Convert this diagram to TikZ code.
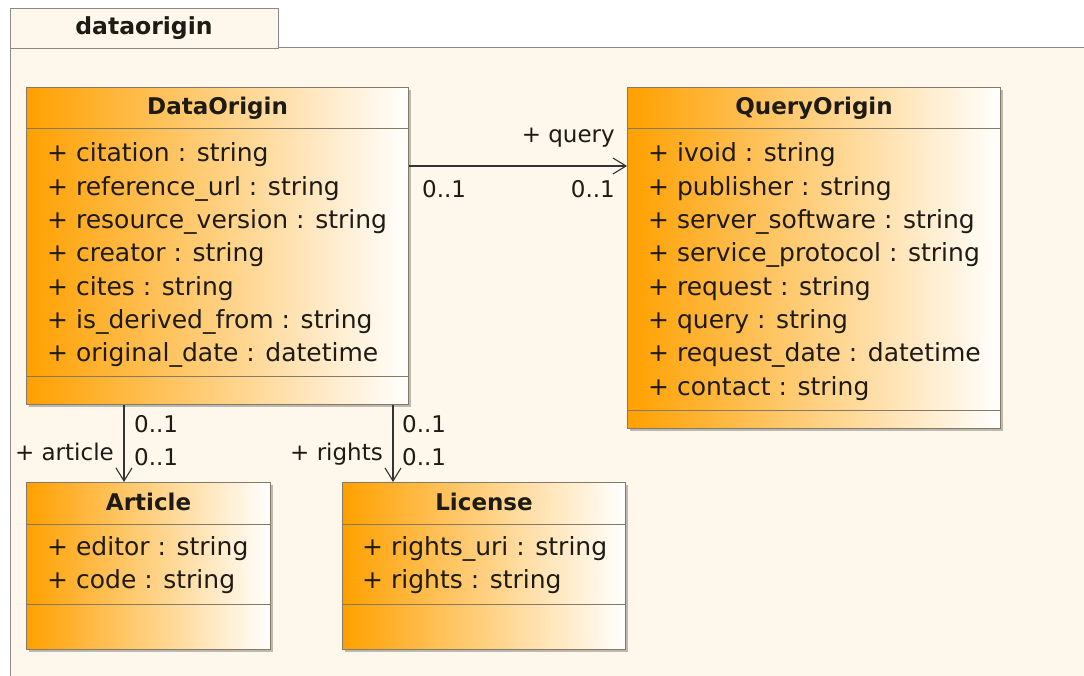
\documentclass[tikz,border=0pt]{standalone}
\usepackage{fontspec}
\setmainfont{DejaVu Sans}
\usetikzlibrary{arrows.meta,shadows,calc}

\definecolor{pkgfill}{HTML}{FDF8EB}
\definecolor{pkgline}{HTML}{8C8A84}
\definecolor{clsline}{HTML}{857A66}
\definecolor{clsorange}{HTML}{FFA000}
\definecolor{txt}{HTML}{1E1A14}

\newcommand{\umlfont}{\fontsize{23}{28}\selectfont}
\newcommand{\attrfont}{\fontsize{25}{30}\selectfont}

\tikzset{
  classbox/.style={draw=clsline, line width=1.1pt, left color=clsorange, right color=white,
    anchor=north west, inner sep=0pt,
    drop shadow={shadow xshift=2pt, shadow yshift=-2pt, fill=black, opacity=0.25}},
  sepline/.style={draw=clsline, line width=1pt},
  classname/.style={anchor=base, inner sep=0pt, font=\umlfont\bfseries, text=txt},
  attr/.style={anchor=base west, inner sep=0pt, font=\attrfont, text=txt},
  rolelabel/.style={inner sep=0pt, font=\umlfont, text=txt},
  assoc/.style={draw=black!80, line width=1.1pt, -{Straight Barb[length=13pt,width=16pt]}},
}

\begin{document}
\begin{tikzpicture}[x=1pt,y=-1pt]
\useasboundingbox (0,0) rectangle (1084,676);
\fill[white] (0,0) rectangle (1084,676);

% package frame with its name tab
\draw[pkgline, line width=1pt, fill=pkgfill] (10,48) rectangle (1100,700);
\node[draw=pkgline, line width=1pt, fill=pkgfill, anchor=north west, minimum width=268pt,
      minimum height=40pt, inner sep=0pt] (pkgtab) at (10,8) {};
\node[anchor=base, inner sep=0pt, font=\fontsize{23.5}{28}\selectfont\bfseries, text=txt]
  (pkgname) at (144,35) {dataorigin};

% class DataOrigin
\node[classbox, minimum width=382pt, minimum height=317pt] (dataorigin) at (26,87) {};
\node[classname] (dataorigin-name) at ($(dataorigin.north)+(0,28)$) {DataOrigin};
\draw[sepline] ($(dataorigin.north west)+(0,42)$) -- ($(dataorigin.north east)+(0,42)$);
\draw[sepline] ($(dataorigin.north west)+(0,289)$) -- ($(dataorigin.north east)+(0,289)$);
\foreach \t [count=\i] in {citation : string, reference\_url : string, resource\_version : string,
    creator : string, cites : string, is\_derived\_from : string, original\_date : datetime}
  \node[attr] (dataorigin-a\i) at ($(dataorigin.north west)+(21,41.7+33.3*\i)$) {+ \t};

% class QueryOrigin
\node[classbox, minimum width=373pt, minimum height=341pt] (queryorigin) at (627,87) {};
\node[classname] (queryorigin-name) at ($(queryorigin.north)+(0,28)$) {QueryOrigin};
\draw[sepline] ($(queryorigin.north west)+(0,42)$) -- ($(queryorigin.north east)+(0,42)$);
\draw[sepline] ($(queryorigin.north west)+(0,323)$) -- ($(queryorigin.north east)+(0,323)$);
\foreach \t [count=\i] in {ivoid : string, publisher : string, server\_software : string,
    service\_protocol : string, request : string, query : string, request\_date : datetime,
    contact : string}
  \node[attr] (queryorigin-a\i) at ($(queryorigin.north west)+(21,41.7+33.3*\i)$) {+ \t};

% class Article
\node[classbox, minimum width=244pt, minimum height=167pt] (article) at (26,482) {};
\node[classname] (article-name) at ($(article.north)+(0,28)$) {Article};
\draw[sepline] ($(article.north west)+(0,42)$) -- ($(article.north east)+(0,42)$);
\draw[sepline] ($(article.north west)+(0,122)$) -- ($(article.north east)+(0,122)$);
\foreach \t [count=\i] in {editor : string, code : string}
  \node[attr] (article-a\i) at ($(article.north west)+(21,39.7+33.3*\i)$) {+ \t};

% class License
\node[classbox, minimum width=283pt, minimum height=167pt] (license) at (342,482) {};
\node[classname] (license-name) at ($(license.north)+(0,28)$) {License};
\draw[sepline] ($(license.north west)+(0,42)$) -- ($(license.north east)+(0,42)$);
\draw[sepline] ($(license.north west)+(0,122)$) -- ($(license.north east)+(0,122)$);
\foreach \t [count=\i] in {rights\_uri : string, rights : string}
  \node[attr] (license-a\i) at ($(license.north west)+(20,39.7+33.3*\i)$) {+ \t};

% associations
\coordinate (queryline) at (0,166);
\coordinate (articleline) at (124,0);
\coordinate (licenseline) at (393,0);
\draw[assoc] (dataorigin.east |- queryline) -- (queryorigin.west |- queryline);
\draw[assoc] (dataorigin.south -| articleline) -- (article.north -| articleline);
\draw[assoc] (dataorigin.south -| licenseline) -- (license.north -| licenseline);

% role names and multiplicities
\node[rolelabel, anchor=base east] (query-role) at (615,143) {+ query};
\node[rolelabel, anchor=base west] (query-src) at (422,198) {0..1};
\node[rolelabel, anchor=base east] (query-dst) at (615,198) {0..1};

\node[rolelabel, anchor=base west] (article-src) at (134,432) {0..1};
\node[rolelabel, anchor=base west] (article-dst) at (134,465) {0..1};
\node[rolelabel, anchor=base east] (article-role) at (114,460) {+ article};

\node[rolelabel, anchor=base west] (license-src) at (402,432) {0..1};
\node[rolelabel, anchor=base west] (license-dst) at (402,465) {0..1};
\node[rolelabel, anchor=base east] (license-role) at (383,460) {+ rights};
\end{tikzpicture}
\end{document}
